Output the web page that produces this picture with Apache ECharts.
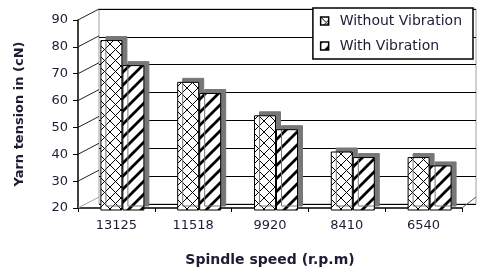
<!DOCTYPE html>
<html>
<head>
<meta charset="utf-8">
<script src="https://cdn.jsdelivr.net/npm/echarts@6/dist/echarts.min.js"></script>
<style>
    html, body { margin: 0; padding: 0; background: #fff; }
    #chart { width: 480px; height: 272px; }
</style>
</head>
<body>
<div id="chart"></div>
<script>
// Data
var speeds = ['13125', '11518', '9920', '8410', '6540'];
var withoutVibration = [81, 66, 54, 41, 39];
var withVibration = [72, 62, 49, 39, 36];
var tensionTicks = [20, 30, 40, 50, 60, 70, 80, 90];

var textColor = '#1c1c34';
var font = 'DejaVu Sans, Arial, sans-serif';

// Fill patterns
function makeCross(s) {
    var c = document.createElement('canvas');
    c.width = s; c.height = s;
    var ctx = c.getContext('2d');
    ctx.fillStyle = '#fff';
    ctx.fillRect(0, 0, s, s);
    ctx.strokeStyle = '#000';
    ctx.lineWidth = 1;
    ctx.beginPath();
    ctx.moveTo(0, 0); ctx.lineTo(s, s);
    ctx.moveTo(s, 0); ctx.lineTo(0, s);
    ctx.stroke();
    return c;
}
function makeStripes(s, w) {
    var c = document.createElement('canvas');
    c.width = s; c.height = s;
    var ctx = c.getContext('2d');
    ctx.fillStyle = '#fff';
    ctx.fillRect(0, 0, s, s);
    ctx.strokeStyle = '#000';
    ctx.lineWidth = w;
    ctx.beginPath();
    ctx.moveTo(-2, 2); ctx.lineTo(2, -2);
    ctx.moveTo(-1, s + 1); ctx.lineTo(s + 1, -1);
    ctx.moveTo(s - 2, s + 2); ctx.lineTo(s + 2, s - 2);
    ctx.stroke();
    return c;
}
var crossFill = { image: makeCross(11), repeat: 'repeat' };
var stripeFill = { image: makeStripes(13, 2.8), repeat: 'repeat' };

var chart = echarts.init(document.getElementById('chart'));

chart.setOption({
    animation: false,
    textStyle: { fontFamily: font },

    // 0: front axes, 1: back wall, 2: bars (mid depth)
    grid: [
        { left: 78, right: 18, top: 20, bottom: 57 },
        { left: 99, right: 4, top: 9, bottom: 68, show: true, borderColor: '#a0a0a0', borderWidth: 1, backgroundColor: '#fff' },
        { left: 84, right: 12, top: 15, bottom: 62 }
    ],

    legend: {
        data: ['Without Vibration', 'With Vibration'],
        orient: 'vertical',
        right: 7,
        top: 8,
        padding: [6, 11, 6, 7],
        itemGap: 11,
        itemWidth: 8,
        itemHeight: 8,
        icon: 'rect',
        backgroundColor: '#fff',
        borderColor: '#000',
        borderWidth: 1.5,
        itemStyle: { shadowColor: 'transparent', shadowOffsetX: 0, shadowOffsetY: 0, borderWidth: 1.5 },
        textStyle: { color: textColor, fontSize: 14, fontFamily: font, padding: [0, 0, 0, 6] }
    },

    xAxis: [{
        gridIndex: 0,
        type: 'category',
        data: speeds,
        name: 'Spindle speed (r.p.m)',
        nameLocation: 'middle',
        nameGap: 45,
        nameTextStyle: { color: textColor, fontSize: 14, fontWeight: 'bold', fontFamily: font },
        axisLine: { lineStyle: { color: '#000', width: 1.5 } },
        axisTick: { show: true, length: 4, lineStyle: { color: '#000' } },
        axisLabel: { color: textColor, fontSize: 13, margin: 11 },
        splitLine: { show: false }
    }, {
        gridIndex: 1,
        type: 'category',
        data: speeds,
        show: false
    }, {
        gridIndex: 2,
        type: 'category',
        data: speeds,
        show: false
    }],

    yAxis: [{
        gridIndex: 0,
        type: 'value',
        min: 20,
        max: 90,
        interval: 10,
        name: 'Yarn tension in (cN)',
        nameLocation: 'middle',
        nameGap: 52,
        nameTextStyle: { color: textColor, fontSize: 13, fontWeight: 'bold', fontFamily: font },
        axisLine: { show: true, lineStyle: { color: '#000', width: 1.5 } },
        axisTick: { show: true, length: 5, lineStyle: { color: '#000' } },
        axisLabel: { color: textColor, fontSize: 13, margin: 10 },
        splitLine: { show: false }
    }, {
        gridIndex: 1,
        type: 'value',
        min: 20,
        max: 90,
        interval: 10,
        axisLine: { show: false },
        axisTick: { show: false },
        axisLabel: { show: false },
        splitLine: { show: true, lineStyle: { color: '#000', width: 1 } }
    }, {
        gridIndex: 2,
        type: 'value',
        min: 20,
        max: 90,
        interval: 10,
        show: false
    }],

    series: [
        // side wall and floor edges
        {
            type: 'custom',
            xAxisIndex: 0,
            yAxisIndex: 0,
            z: 1,
            silent: true,
            data: tensionTicks.map(function (v) { return [0, v]; }),
            renderItem: function (params, api) {
                var cs = params.coordSys;
                var y = api.coord([0, api.value(1)])[1];
                var floor = api.value(1) === 20;
                var children = [{
                    type: 'line',
                    shape: { x1: cs.x, y1: y, x2: cs.x + 21, y2: y - 11 },
                    style: { stroke: floor ? '#a0a0a0' : '#222', lineWidth: 1 }
                }];
                if (floor) {
                    children.push({
                        type: 'line',
                        shape: { x1: cs.x + cs.width, y1: y, x2: cs.x + cs.width + 14, y2: y - 11 },
                        style: { stroke: '#555', lineWidth: 1 }
                    });
                }
                return { type: 'group', children: children };
            }
        },
        {
            name: 'Without Vibration',
            type: 'bar',
            xAxisIndex: 2,
            yAxisIndex: 2,
            z: 3,
            barWidth: 22,
            barGap: '0%',
            itemStyle: {
                color: crossFill,
                borderColor: '#000',
                borderWidth: 1,
                shadowColor: '#777',
                shadowOffsetX: 5,
                shadowOffsetY: -4,
                shadowBlur: 0
            },
            data: withoutVibration
        },
        {
            name: 'With Vibration',
            type: 'bar',
            xAxisIndex: 2,
            yAxisIndex: 2,
            z: 3,
            barWidth: 22,
            barGap: '0%',
            itemStyle: {
                color: stripeFill,
                borderColor: '#000',
                borderWidth: 1,
                shadowColor: '#777',
                shadowOffsetX: 5,
                shadowOffsetY: -4,
                shadowBlur: 0
            },
            data: withVibration
        }
    ]
});
</script>
</body>
</html>
